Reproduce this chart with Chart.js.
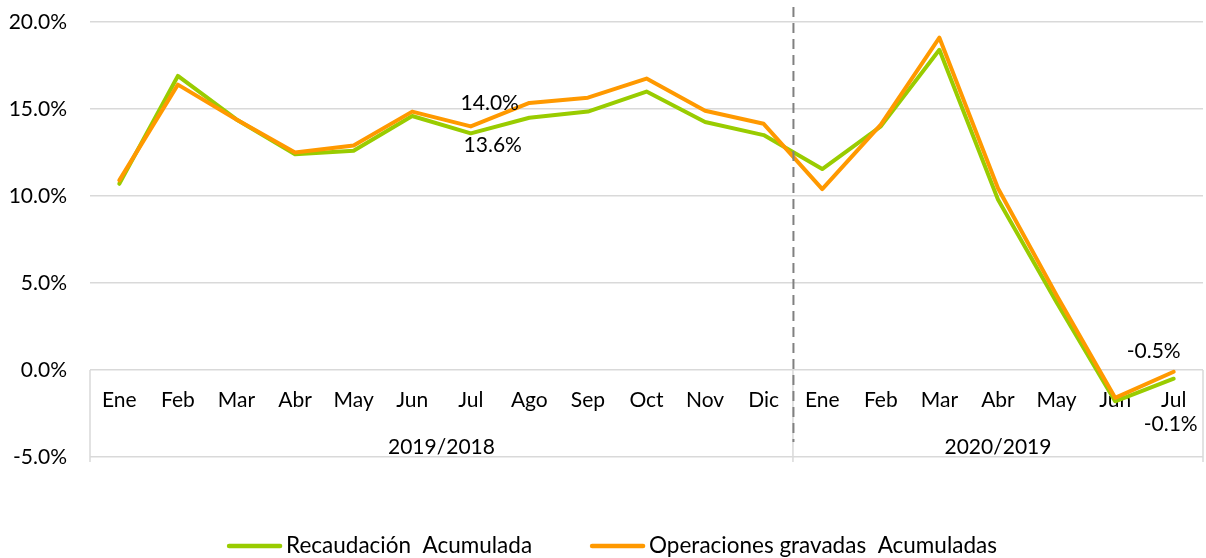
<!DOCTYPE html>
<html lang="es">
<head>
<meta charset="utf-8">
<title>Recaudación y operaciones gravadas acumuladas</title>
<script src="https://cdn.jsdelivr.net/npm/chart.js@4/dist/chart.umd.min.js"></script>
<style>
  html, body { margin: 0; padding: 0; background: #fff; }
  #wrap { width: 1206px; height: 558px; }
</style>
</head>
<body>
<div id="wrap"><canvas id="chart" width="1206" height="558"></canvas></div>
<script>
// Variación acumulada (%), meses de 2019/2018 y 2020/2019
const months = ['Ene', 'Feb', 'Mar', 'Abr', 'May', 'Jun', 'Jul', 'Ago', 'Sep', 'Oct', 'Nov', 'Dic',
                'Ene', 'Feb', 'Mar', 'Abr', 'May', 'Jun', 'Jul'];
const periodLabels = ['2019/2018', '2020/2019'];
const periodStarts = [0, 12];

const recaudacion = [10.7, 16.9, 14.4, 12.4, 12.6, 14.6, 13.6, 14.5, 14.85, 16.0, 14.25, 13.5,
                     11.55, 14.0, 18.4, 9.8, 3.9, -1.8, -0.5];
const operaciones = [10.9, 16.4, 14.4, 12.5, 12.9, 14.85, 14.0, 15.35, 15.65, 16.75, 14.9, 14.15,
                     10.4, 14.1, 19.1, 10.45, 4.3, -1.6, -0.1];

const yTicks = [-5, 0, 5, 10, 15, 20];

const FONT = 'Lato, "Open Sans", sans-serif';
const FONT_SIZE = 21;
const LEGEND_SIZE = 22.5;
const GREEN = '#99cc00';
const ORANGE = '#ff9900';
const GRID = '#d9d9d9';

const pct = v => v.toFixed(1) + '%';

// value labels: dataset, point index, offset from the point
const pointLabels = [
    { ds: 1, i: 6, dx: 19, dy: -23 },
    { ds: 0, i: 6, dx: 22, dy: 12 },
    { ds: 0, i: 18, dx: -20, dy: -27 },
    { ds: 1, i: 18, dx: -3, dy: 52 }
];

// period boxes under the axis, dashed divider, value labels and legend
const extras = {
    id: 'extras',
    afterDatasetsDraw(chart) {
        const { ctx, chartArea } = chart;
        const xs = chart.scales.x, ys = chart.scales.y;
        const y0 = ys.getPixelForValue(0);
        const yBottom = chartArea.bottom + 5;

        // vertical lines bounding each period
        const bounds = periodStarts.map(s => xs.getPixelForValue(s - 0.5));
        bounds.push(xs.getPixelForValue(months.length - 0.5));
        ctx.save();
        ctx.strokeStyle = GRID;
        ctx.lineWidth = 1.5;
        bounds.forEach(x => {
            ctx.beginPath();
            ctx.moveTo(x, y0);
            ctx.lineTo(x, yBottom);
            ctx.stroke();
        });

        // period names
        ctx.fillStyle = '#000';
        ctx.font = FONT_SIZE + 'px ' + FONT;
        ctx.textAlign = 'center';
        ctx.textBaseline = 'middle';
        periodLabels.forEach((lbl, k) => {
            ctx.fillText(lbl, (bounds[k] + bounds[k + 1]) / 2, chartArea.bottom - 10);
        });

        // dashed divider between years
        const xd = bounds[1] + 0.5;
        ctx.strokeStyle = '#808080';
        ctx.lineWidth = 2;
        ctx.setLineDash([10, 6]);
        ctx.beginPath();
        ctx.moveTo(xd, 7);
        ctx.lineTo(xd, chartArea.bottom - 15);
        ctx.stroke();
        ctx.setLineDash([]);

        // value labels
        pointLabels.forEach(p => {
            const el = chart.getDatasetMeta(p.ds).data[p.i];
            const v = chart.data.datasets[p.ds].data[p.i];
            ctx.fillText(pct(v), el.x + p.dx, el.y + p.dy);
        });

        // legend
        ctx.font = LEGEND_SIZE + 'px ' + FONT;
        const lineLen = 55, textGap = 4, itemGap = 58, ly = 546;
        const items = chart.data.datasets.map(d => ({
            label: d.label, color: d.borderColor, w: ctx.measureText(d.label).width
        }));
        const total = items.reduce((s, it) => s + lineLen + textGap + it.w, 0) + itemGap * (items.length - 1);
        let x = 612 - total / 2;
        ctx.textAlign = 'left';
        items.forEach(it => {
            ctx.strokeStyle = it.color;
            ctx.lineWidth = 4.5;
            ctx.lineCap = 'round';
            ctx.beginPath();
            ctx.moveTo(x + 2, ly);
            ctx.lineTo(x + lineLen - 2, ly);
            ctx.stroke();
            x += lineLen + textGap;
            ctx.fillText(it.label, x, ly);
            x += it.w + itemGap;
        });
        ctx.restore();
    }
};

new Chart(document.getElementById('chart'), {
    type: 'line',
    data: {
        labels: months,
        datasets: [{
            label: 'Recaudación  Acumulada',
            data: recaudacion,
            borderColor: GREEN,
            backgroundColor: GREEN,
            borderWidth: 4,
            order: 1
        }, {
            label: 'Operaciones gravadas  Acumuladas',
            data: operaciones,
            borderColor: ORANGE,
            backgroundColor: ORANGE,
            borderWidth: 4,
            order: 0
        }]
    },
    options: {
        responsive: false,
        animation: false,
        layout: { padding: { top: 22, bottom: 101, right: 3, left: 0 } },
        elements: {
            point: { radius: 0, hoverRadius: 0 },
            line: { tension: 0, borderJoinStyle: 'round', borderCapStyle: 'round' }
        },
        plugins: {
            legend: { display: false },
            tooltip: { enabled: false }
        },
        scales: {
            x: {
                type: 'category',
                position: { y: 0 },
                offset: true,
                grid: { display: false },
                border: { display: false },
                ticks: {
                    autoSkip: false,
                    maxRotation: 0,
                    padding: 10,
                    color: '#000',
                    font: { family: FONT, size: FONT_SIZE }
                }
            },
            y: {
                min: -5,
                max: 20,
                afterFit: s => { s.width = 90; },
                afterBuildTicks: s => { s.ticks = yTicks.map(v => ({ value: v })); },
                // invisible tick marks keep the labels clear of the plot edge
                grid: { color: GRID, lineWidth: 1.5, drawTicks: true, tickLength: 23, tickColor: 'rgba(0,0,0,0)' },
                border: { display: false },
                ticks: {
                    padding: 0,
                    color: '#000',
                    font: { family: FONT, size: FONT_SIZE },
                    callback: v => pct(v)
                }
            }
        }
    },
    plugins: [extras]
});
</script>
</body>
</html>
